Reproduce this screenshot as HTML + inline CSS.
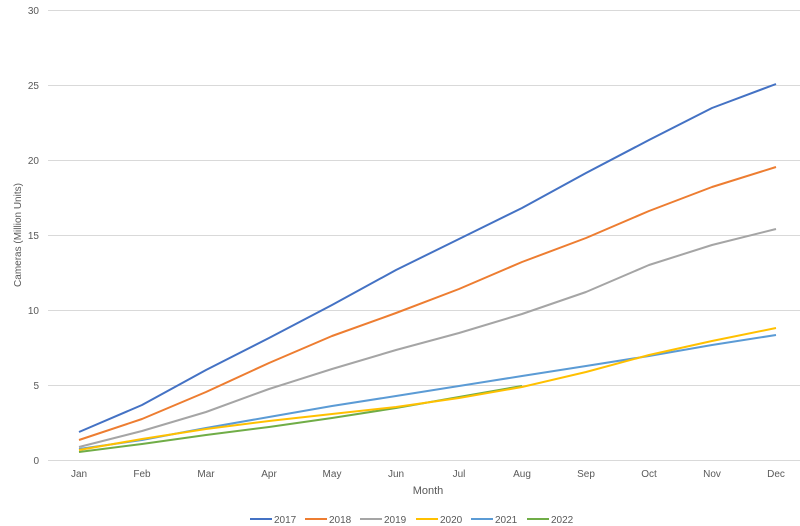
<!DOCTYPE html><html><head><style>body{margin:0;background:#fff}svg{display:block}text{font-family:"Liberation Sans",sans-serif;fill:#595959}</style></head><body>
<svg width="800" height="526" viewBox="0 0 800 526">
<g stroke="#d9d9d9" stroke-width="1">
<line x1="48" x2="800" y1="10.5" y2="10.5"/><line x1="48" x2="800" y1="85.5" y2="85.5"/><line x1="48" x2="800" y1="160.5" y2="160.5"/><line x1="48" x2="800" y1="235.5" y2="235.5"/><line x1="48" x2="800" y1="310.5" y2="310.5"/><line x1="48" x2="800" y1="385.5" y2="385.5"/><line x1="48" x2="800" y1="460.5" y2="460.5"/>
</g>
<g font-size="10" text-anchor="end">
<text x="39" y="14">30</text><text x="39" y="89">25</text><text x="39" y="164">20</text><text x="39" y="239">15</text><text x="39" y="314">10</text><text x="39" y="389">5</text><text x="39" y="464">0</text></g>
<g font-size="10" text-anchor="middle">
<text x="79" y="477">Jan</text><text x="142" y="477">Feb</text><text x="206" y="477">Mar</text><text x="269" y="477">Apr</text><text x="332" y="477">May</text><text x="396" y="477">Jun</text><text x="459" y="477">Jul</text><text x="522" y="477">Aug</text><text x="586" y="477">Sep</text><text x="649" y="477">Oct</text><text x="712" y="477">Nov</text><text x="776" y="477">Dec</text></g>
<text x="428" y="494" font-size="11" text-anchor="middle">Month</text>
<text transform="translate(21,235) rotate(-90)" font-size="10" text-anchor="middle">Cameras (Million Units)</text>
<g fill="none" stroke-width="2" stroke-linejoin="round">
<polyline stroke="#70ad47" points="79,452 142,444 206,435 269,427 332,418 396,408 459,397 522,386"/>
<polyline stroke="#5b9bd5" points="79,449 142,440 206,428 269,417 332,406 396,396 459,386 522,376 586,366 649,356 712,345 776,335"/>
<polyline stroke="#ffc000" stroke="#e5b72a" points="79,450 142,439 206,429 269,421 332,414 396,407 459,398 522,387 586,372 649,355 712,341 776,328"/>
<polyline stroke="#a5a5a5" points="79,447 142,431 206,412 269,389 332,369 396,350 459,333 522,314 586,292 649,265 712,245 776,229"/>
<polyline stroke="#ed7d31" points="79,440 142,419 206,392 269,363 332,336 396,313 459,289 522,262 586,238 649,211 712,187 776,167"/>
<polyline stroke="#4472c4" points="79,432 142,405 206,370 269,338 332,305 396,270 459,239 522,208 586,173 649,140 712,108 776,84"/>
</g>
<g font-size="10" stroke-width="2">
<line x1="250" x2="272" y1="519" y2="519" stroke="#4472c4"/><text x="274" y="523">2017</text>
<line x1="305" x2="327" y1="519" y2="519" stroke="#ed7d31"/><text x="329" y="523">2018</text>
<line x1="360" x2="382" y1="519" y2="519" stroke="#a5a5a5"/><text x="384" y="523">2019</text>
<line x1="416" x2="438" y1="519" y2="519" stroke="#ffc000"/><text x="440" y="523">2020</text>
<line x1="471" x2="493" y1="519" y2="519" stroke="#5b9bd5"/><text x="495" y="523">2021</text>
<line x1="527" x2="549" y1="519" y2="519" stroke="#70ad47"/><text x="551" y="523">2022</text>
</g>
</svg></body></html>
